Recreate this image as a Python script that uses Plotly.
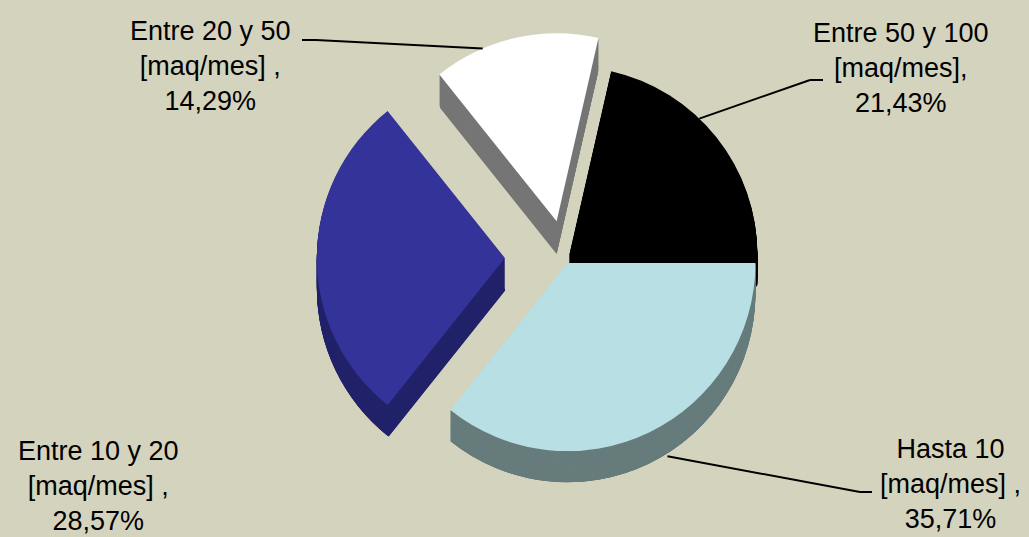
import math
import plotly.graph_objects as go

categories = ["Hasta 10", "Entre 10 y 20", "Entre 20 y 50", "Entre 50 y 100"]
unit_labels = ["[maq/mes] ,", "[maq/mes] ,", "[maq/mes] ,", "[maq/mes],"]
percent_labels = ["35,71%", "28,57%", "14,29%", "21,43%"]
values = [35.71, 28.57, 14.29, 21.43]
top_colors = ["#B8DFE3", "#333399", "#FFFFFF", "#000000"]
side_colors = ["#677C7C", "#23236B", "#767676", "#000000"]
pulls = [0.03, 0.32, 0.2, 0.03]

W, H = 1029, 537
BG = "#D4D3BE"

# pie geometry (pixels)
cx, cy, r = 565.0, 258.0, 188.0
max_pull = max(pulls)
box = 2 * r * (1 + max_pull)
depth = 34
n_layers = 40


def dom(shift):
    x0 = (cx - box / 2) / W
    x1 = (cx + box / 2) / W
    top = cy - box / 2 + shift
    bot = cy + box / 2 + shift
    return dict(x=[x0, x1], y=[max(0, 1 - bot / H), min(1, 1 - top / H)])


fig = go.Figure()
for k in range(n_layers, 0, -1):
    fig.add_trace(go.Pie(
        labels=categories, values=values, sort=False, direction="clockwise",
        rotation=90, pull=pulls, textinfo="none", hoverinfo="skip",
        marker=dict(colors=side_colors, line=dict(width=0)),
        domain=dom(depth * k / n_layers), showlegend=False,
    ))
fig.add_trace(go.Pie(
    labels=categories, values=values, sort=False, direction="clockwise",
    rotation=90, pull=pulls, textinfo="none", hoverinfo="label+percent",
    marker=dict(colors=top_colors, line=dict(width=0)),
    domain=dom(0), showlegend=False,
))

# slice angles (clockwise from 12 o'clock)
total = sum(values)
starts = []
a = 90.0
for v in values:
    starts.append(a)
    a += 360 * v / total


def edge_point(i, frac, shift=0.0):
    ang = starts[i] + frac * 360 * values[i] / total
    mid = starts[i] + 0.5 * 360 * values[i] / total
    px = cx + r * math.sin(math.radians(ang)) + pulls[i] * r * math.sin(math.radians(mid))
    py = cy - r * math.cos(math.radians(ang)) - pulls[i] * r * math.cos(math.radians(mid)) + shift
    return px, py


def pp(px, py):
    return px / W, 1 - py / H


label_pos = [(950, 484), (98, 486), (210, 66), (901, 68)]
for i in range(4):
    x, y = pp(*label_pos[i])
    fig.add_annotation(
        x=x, y=y, xref="paper", yref="paper", xanchor="center", yanchor="middle",
        text=f"{categories[i]}<br>{unit_labels[i]}<br>{percent_labels[i]}",
        showarrow=False, font=dict(family="Liberation Sans, Arial, sans-serif", size=27, color="#000000"),
    )

line_style = dict(color="#000000", width=2)


def leader(pts):
    for (ax, ay), (bx, by) in zip(pts[:-1], pts[1:]):
        x0, y0 = pp(ax, ay)
        x1, y1 = pp(bx, by)
        fig.add_shape(type="line", xref="paper", yref="paper",
                      x0=x0, y0=y0, x1=x1, y1=y1, line=line_style)


leader([(302, 40), (316, 40), edge_point(2, 0.3)])
leader([(823, 80), (810, 80), edge_point(3, 0.4)])
leader([(872, 492), (860, 492), edge_point(0, 0.45, depth)])

fig.update_layout(
    width=W, height=H,
    paper_bgcolor=BG, plot_bgcolor=BG,
    margin=dict(l=0, r=0, t=0, b=0),
)

fig.write_html(
    "out.html",
    config={"displayModeBar": False},
    post_script="document.body.style.margin='0';document.body.style.background='" + BG + "';",
)
